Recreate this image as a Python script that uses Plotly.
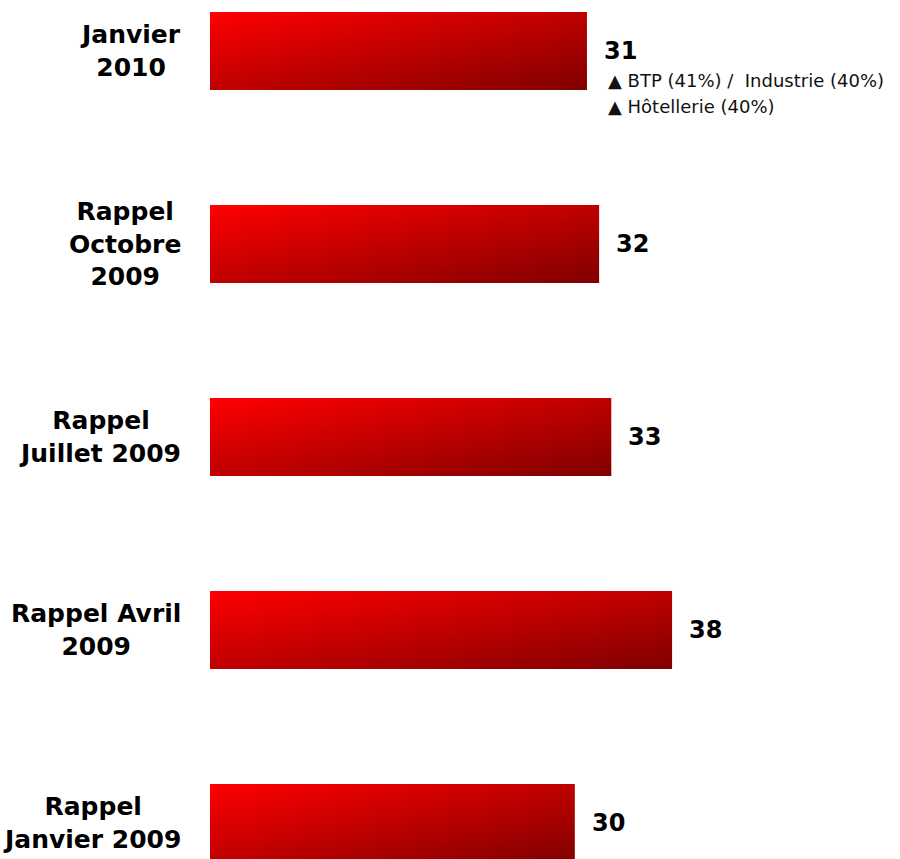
import plotly.graph_objects as go

# Survey waves (top to bottom) and their scores
periods = [
    "Janvier<br>2010",
    "Rappel<br>Octobre<br>2009",
    "Rappel<br>Juillet 2009",
    "Rappel Avril<br>2009",
    "Rappel<br>Janvier 2009",
]
scores = [31, 32, 33, 38, 30]
detail_lines = ["▲ BTP (41%) /  Industrie (40%)", "▲ Hôtellerie (40%)"]

W, H = 900, 859
PX_PER_UNIT = 12.16
ROW_PX = 193
FIRST_ROW_PX = 51
HALF_BAR = 0.202
N_STRIPS = 26

label_font = dict(family="DejaVu Sans", size=25, color="#000000")
value_font = dict(family="DejaVu Sans", size=24, color="#000000")
note_font = dict(family="DejaVu Sans", size=18, color="#111111")


def red(r):
    r = max(0, min(255, int(round(r))))
    return f"rgb({r},0,0)"


fig = go.Figure()

# Each bar is built from thin horizontal strips, each with a horizontal
# gradient, so that the whole bar shades diagonally from bright red to maroon.
for i, val in enumerate(scores):
    y_top = i - HALF_BAR
    y_bot = i + HALF_BAR
    step = (y_bot - y_top) / N_STRIPS
    for k in range(N_STRIPS):
        a = y_top + k * step
        b = a + step * 1.05 if k < N_STRIPS - 1 else y_bot
        v = (k + 0.5) / N_STRIPS
        c_left = 255 - 63.5 * v
        c_right = 255 - 63.5 - 63.5 * v
        fig.add_trace(
            go.Scatter(
                x=[0, val, val, 0, 0],
                y=[a, a, b, b, a],
                mode="lines",
                line=dict(width=0),
                fill="toself",
                fillgradient=dict(
                    type="horizontal",
                    colorscale=[[0, red(c_left)], [1, red(c_right)]],
                ),
                hoverinfo="skip",
                showlegend=False,
            )
        )

annotations = []
for i, (lab, val) in enumerate(zip(periods, scores)):
    annotations.append(
        dict(
            x=0, y=i, xref="x", yref="y", text=f"<b>{lab}</b>",
            xanchor="right", yanchor="middle", align="center",
            xshift=-27, showarrow=False, font=label_font,
        )
    )
    annotations.append(
        dict(
            x=val, y=i, xref="x", yref="y", text=f"<b>{val}</b>",
            xanchor="left", yanchor="middle", xshift=15,
            showarrow=False, font=value_font,
        )
    )

for j, line in enumerate(detail_lines):
    annotations.append(
        dict(
            x=scores[0], y=0, xref="x", yref="y", text=line,
            xanchor="left", yanchor="middle", align="left",
            xshift=19, yshift=-29 - 26 * j,
            showarrow=False, font=note_font,
        )
    )

x_max = (W - 210) / PX_PER_UNIT
y_min = -FIRST_ROW_PX / ROW_PX
y_max = (H - FIRST_ROW_PX) / ROW_PX

fig.update_layout(
    width=W, height=H,
    margin=dict(l=210, r=0, t=0, b=0),
    paper_bgcolor="white", plot_bgcolor="white",
    showlegend=False,
    xaxis=dict(range=[0, x_max], visible=False, fixedrange=True),
    yaxis=dict(range=[y_max, y_min], visible=False, fixedrange=True),
    annotations=annotations,
)

fig.write_html("out.html")
